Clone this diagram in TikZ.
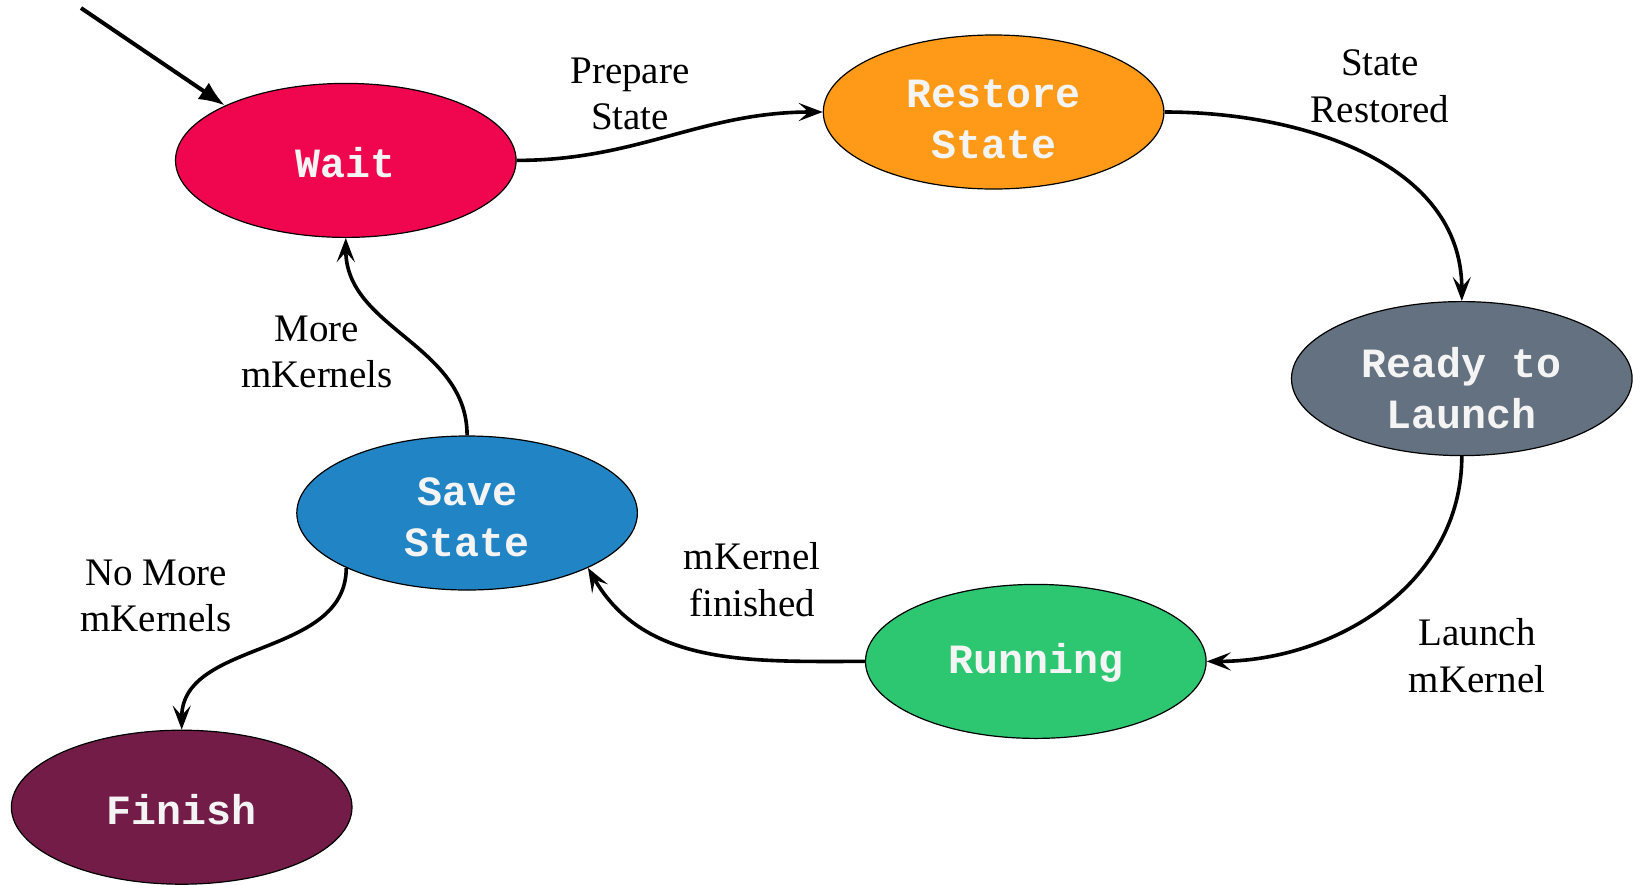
\documentclass[tikz,border=0pt]{standalone}
\usepackage{fontspec}
\setmainfont{Liberation Serif}
\newfontfamily\codefont{Liberation Mono}
\usetikzlibrary{shapes.geometric,arrows.meta}
\definecolor{cWait}{HTML}{F0054F}
\definecolor{cRestore}{HTML}{FE9A18}
\definecolor{cReady}{HTML}{647180}
\definecolor{cSave}{HTML}{2185C5}
\definecolor{cRun}{HTML}{2EC771}
\definecolor{cFinish}{HTML}{721C47}
\definecolor{cText}{HTML}{F4F4F4}
\tikzset{
  state/.style={ellipse, draw=black, line width=0.6pt, minimum width=170.3pt, minimum height=77pt,
    inner sep=0pt},
  stext/.style={align=center, text=cText, inner sep=0pt,
    font=\codefont\bfseries\fontsize{20.8}{25.5}\selectfont},
  trans/.style={line width=1.8pt, -{Stealth[length=12pt,width=9pt,inset=5pt]}},
  lbl/.style={align=center, font=\fontsize{19.5}{23.4}\selectfont}
}
\begin{document}
\begin{tikzpicture}[x=0.5pt,y=-0.5pt]
\useasboundingbox (0,0) rectangle (1633,884);
\node[state, fill=cWait]    (wait)    at (345.8,160.4) {};
\node[state, fill=cRestore] (restore) at (993.6,112) {};
\node[state, fill=cReady]   (ready)   at (1461.8,378.6) {};
\node[state, fill=cSave]    (save)    at (467.1,513) {};
\node[state, fill=cRun]     (run)     at (1035.8,661.4) {};
\node[state, fill=cFinish]  (finish)  at (181.7,807.2) {};

\node[stext] (waitT)    at ([yshift=-1pt]wait.center) {Wait};
\node[stext] (restoreT) at ([yshift=-3.5pt]restore.center) {Restore\\State};
\node[stext] (readyT)   at ([yshift=-5pt]ready.center) {Ready to\\Launch};
\node[stext] (saveT)    at ([yshift=-2pt]save.center) {Save\\State};
\node[stext] (runT)     at ([yshift=-0.5pt]run.center) {Running};
\node[stext] (finishT)  at ([yshift=-1pt]finish.center) {Finish};

\coordinate (init) at (81,8);
\draw[line width=2pt, -{Latex[length=13pt,width=10pt]}] (init) -- (wait.north west);
\draw[trans] (wait.east) to[out=0,in=180] (restore.west);
\draw[trans] (restore.east) to[out=0,in=90] (ready.north);
\draw[trans] (ready.south) to[out=-90,in=0] (run.east);
\draw[trans] (run.west) to[out=180,in=-60] (save.south east);
\draw[trans] (save.north) to[out=90,in=-90] (wait.south);
\draw[trans] (save.south west) to[out=-90,in=90] (finish.north);

\node[lbl] (l1) at (630,94) {Prepare\\State};
\node[lbl] (l2) at (1380,86) {State\\Restored};
\node[lbl] (l3) at (1477,656) {Launch\\mKernel};
\node[lbl] (l4) at (752,580) {mKernel\\finished};
\node[lbl] (l5) at (317,352) {More\\mKernels};
\node[lbl] (l6) at (156,596) {No More\\mKernels};
\end{tikzpicture}
\end{document}
